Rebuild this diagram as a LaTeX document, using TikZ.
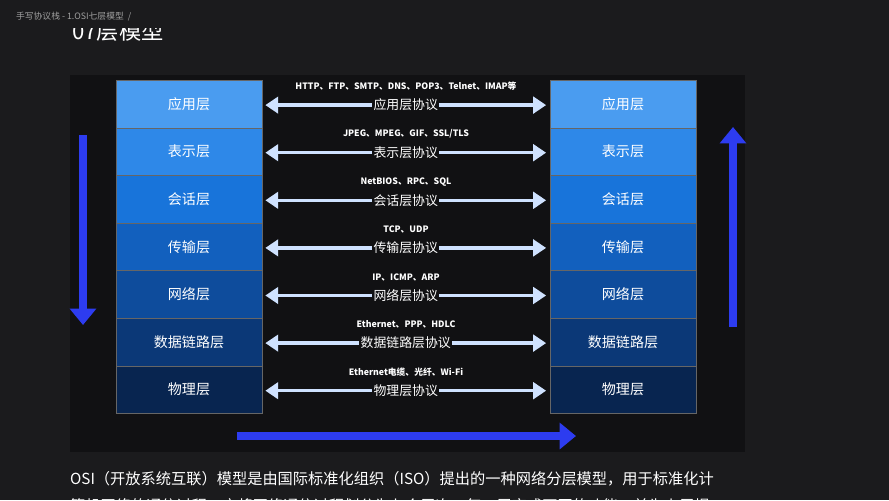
\documentclass[tikz,border=0pt]{standalone}
\usepackage{fontspec}
\setmainfont{Noto Sans CJK SC}
\usetikzlibrary{arrows.meta,positioning,calc}
\definecolor{bgdark}{HTML}{1B1B1D}
\definecolor{panel}{HTML}{111113}
\definecolor{arrowblue}{HTML}{2D3CF0}
\definecolor{protoarrow}{HTML}{CFE2FF}
\definecolor{lA}{HTML}{4A9CF0}
\definecolor{lB}{HTML}{2E88E8}
\definecolor{lC}{HTML}{1874DA}
\definecolor{lD}{HTML}{1260BE}
\definecolor{lE}{HTML}{0E4C9C}
\definecolor{lF}{HTML}{0B3877}
\definecolor{lG}{HTML}{082550}
\begin{document}
\begin{tikzpicture}
	% Styles
	[x=0.03cm,y=-0.03cm,
	layer/.style={draw=black!60,line width=0.6pt,minimum width=4.38cm,minimum height=1.43cm,inner sep=0pt,text=white,font=\fontsize{12}{12}\selectfont},
	proto/.style={text=white,font=\bfseries\fontsize{7.5}{7.5}\selectfont},
	protolabel/.style={fill=panel,inner sep=1pt,text=white,font=\fontsize{11}{11}\selectfont},
	link/.style={{Triangle[width=14pt,length=11pt]}-{Triangle[width=14pt,length=11pt]},protoarrow,line width=3pt},
	flow/.style={-{Triangle[width=22pt,length=14pt]},arrowblue,line width=6pt},
	]
	\useasboundingbox (0,0) rectangle (889,500);
	\clip (0,0) rectangle (889,500);

	% Background
	\fill[bgdark] (0,0) rectangle (889,500);
	\fill[panel] (70,75) rectangle (745,452);
	\node[anchor=west,text=gray!75,font=\fontsize{7.5}{7.5}\selectfont] (path) at (12,17) {手写协议栈 - 1.OSI七层模型 \ /};
	\begin{scope}
		\clip (60,28) rectangle (300,60);
		\node[anchor=west,text=white,font=\fontsize{19}{19}\selectfont,inner sep=0pt] (title) at (72,31) {07层模型};
	\end{scope}

	% Layers
	\foreach \i/\name/\col/\tcp/\pro in {
		1/应用层/lA/HTTP、FTP、SMTP、DNS、POP3、Telnet、IMAP等/应用层协议,
		2/表示层/lB/{JPEG、MPEG、GIF、SSL/TLS}/表示层协议,
		3/会话层/lC/NetBIOS、RPC、SQL/会话层协议,
		4/传输层/lD/TCP、UDP/传输层协议,
		5/网络层/lE/IP、ICMP、ARP/网络层协议,
		6/数据链路层/lF/Ethernet、PPP、HDLC/数据链路层协议,
		7/物理层/lG/Ethernet电缆、光纤、Wi-Fi/物理层协议}{
		\node[layer,fill=\col] (L\i) at (189,{56.5+47.6*\i}) {\name};
		\node[layer,fill=\col] (R\i) at (623,{56.5+47.6*\i}) {\name};
		\draw[link] ([yshift=-0.03cm]L\i.east) ++(3,0) coordinate (a\i) -- ([yshift=-0.03cm,xshift=-3]R\i.west) coordinate (b\i);
		\node[protolabel] (P\i) at ($(a\i)!0.5!(b\i)$) {\pro};
		\node[proto] (T\i) at (406,{39+47.6*\i}) {\tcp};
	}

	% Flow arrows
	\coordinate (dtop) at (83,135);
	\coordinate (dbot) at (83,325);
	\coordinate (utop) at (733,127);
	\coordinate (ubot) at (733,327);
	\coordinate (rs) at (237,436);
	\coordinate (re) at (576,436);
	\draw[flow] (dtop) -- (dbot);
	\draw[flow] (ubot) -- (utop);
	\draw[flow] (rs) -- (re);

	% Text
	\node[anchor=west,text=white,font=\fontsize{13}{13}\selectfont] (desc1) at (66,479) {OSI（开放系统互联）模型是由国际标准化组织（ISO）提出的一种网络分层模型，用于标准化计};
	\node[anchor=west,text=white,font=\fontsize{13}{13}\selectfont] (desc2) at (66,506) {算机网络的通信过程，它将网络通信过程划分为七个层次，每一层完成不同的功能，并为上层提};
\end{tikzpicture}
\end{document}
